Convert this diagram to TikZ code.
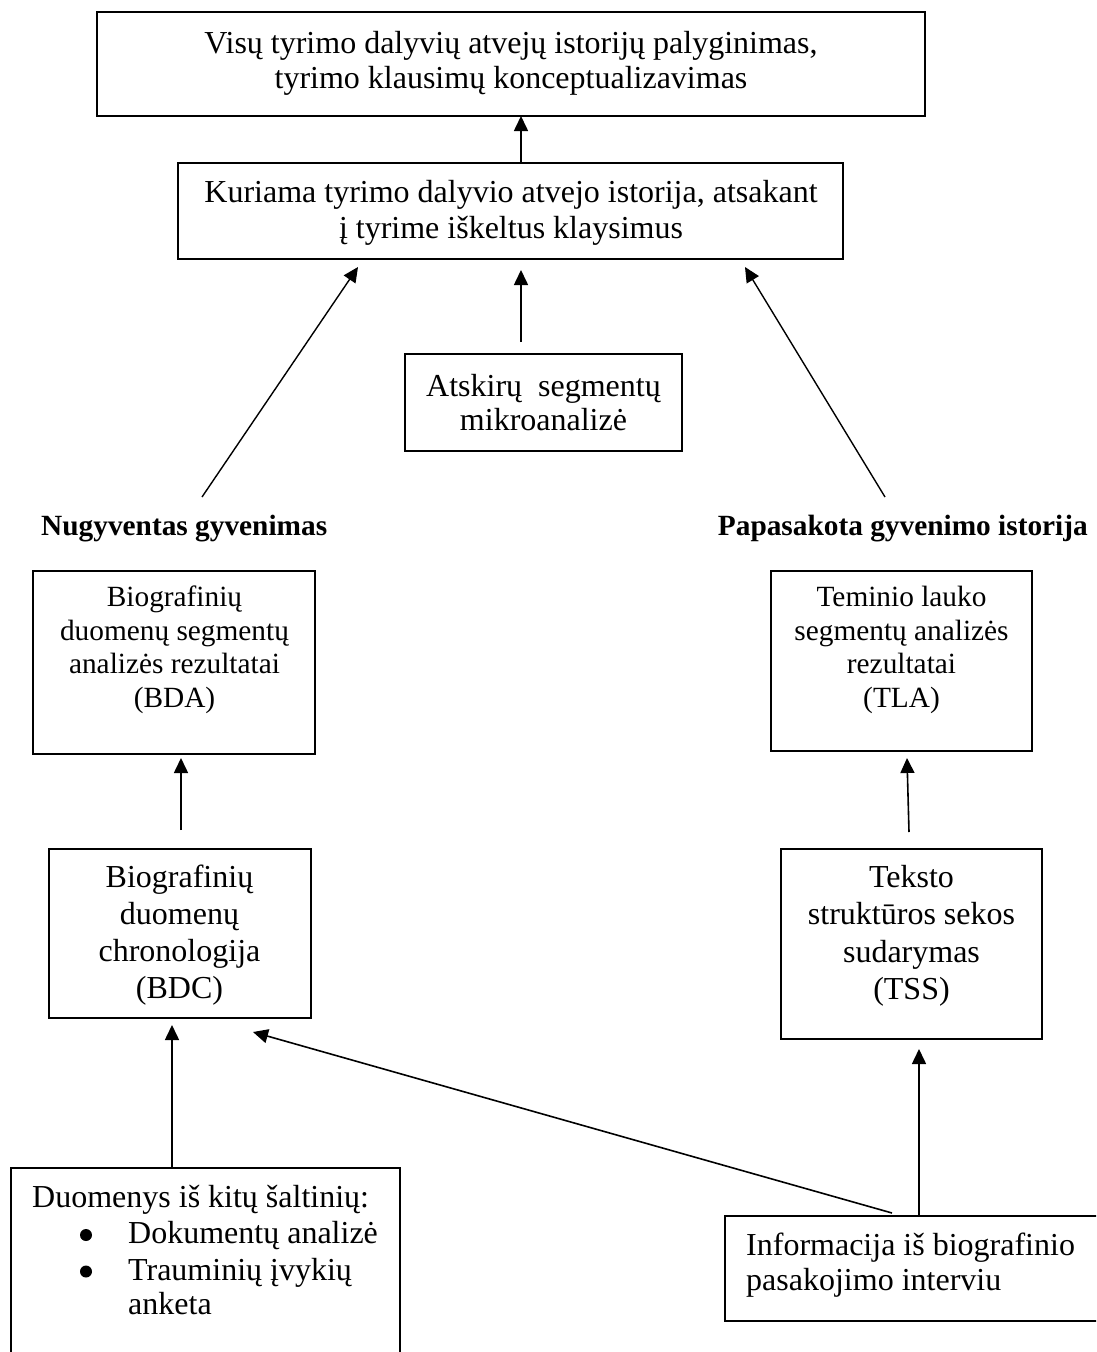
\documentclass[tikz,border=0pt]{standalone}
\usepackage{fontspec}
\setmainfont{Liberation Serif}
\usetikzlibrary{arrows.meta}
\begin{document}
\begin{tikzpicture}[x=1pt,y=-1pt,
  box/.style={draw, line width=2pt, inner sep=0pt, outer sep=0pt, anchor=north west},
  txt/.style={inner sep=0pt, outer sep=0pt, align=center, anchor=north},
  big/.style={font=\fontsize{32}{#1}\selectfont},
  small/.style={font=\fontsize{29.33}{#1}\selectfont},
  lbl/.style={inner sep=0pt, font=\fontsize{29.33}{33.7}\selectfont\bfseries},
  arr/.style={-{Triangle[length=15pt,width=14pt]}, line width=1.6pt},
  thin/.style={-{Triangle[length=15pt,width=14pt]}, line width=1.4pt}]
\useasboundingbox (0,0) rectangle (1096,1352);
\clip (0,0) rectangle (1096,1352);
\fill[white] (0,0) rectangle (1096,1352);

% boxes
\node[box, minimum width=828pt, minimum height=104pt] (top) at (97,12) {};
\node[box, minimum width=665pt, minimum height=96pt] (kur) at (178,163) {};
\node[box, minimum width=277pt, minimum height=97pt] (atsk) at (405,354) {};
\node[box, minimum width=282pt, minimum height=183pt] (bda) at (33,571) {};
\node[box, minimum width=261pt, minimum height=180pt] (tla) at (771,571) {};
\node[box, minimum width=262pt, minimum height=169pt] (bdc) at (49,849) {};
\node[box, minimum width=261pt, minimum height=190pt] (tss) at (781,849) {};
\node[box, minimum width=389pt, minimum height=260pt] (duom) at (11,1168) {};
\node[box, minimum width=400pt, minimum height=105pt] (info) at (725,1216) {};

% texts
\node[txt, big=35] (ttop) at (511,28.8) {\strut Visų tyrimo dalyvių atvejų istorijų palyginimas,\\tyrimo klausimų konceptualizavimas};
\node[txt, big=36] (tkur) at (511,177.5) {\strut Kuriama tyrimo dalyvio atvejo istorija, atsakant\\į tyrime iškeltus klaysimus};
\node[txt, big=33.5] (tatsk) at (543.5,373.2) {\strut Atskirų\ \ segmentų\\mikroanalizė};
\node[lbl, anchor=base west] (nug) at (41,535) {Nugyventas gyvenimas};
\node[lbl, anchor=base east] (pap) at (1088,535) {Papasakota gyvenimo istorija};
\node[txt, small=33.5] (tbda) at (174.5,583.5) {\strut Biografinių\\duomenų segmentų\\analizės rezultatai\\(BDA)};
\node[txt, small=33.5] (ttla) at (901.5,583.5) {\strut Teminio lauko\\segmentų analizės\\rezultatai\\(TLA)};
\node[txt, big=37] (tbdc) at (179.5,861.1) {\strut Biografinių\\duomenų\\chronologija\\(BDC)};
\node[txt, big=37.6] (ttss) at (911.5,860.7) {\strut Teksto\\struktūros sekos\\sudarymas\\(TSS)};
\node[inner sep=0pt, anchor=base west, big=36] (tduom) at (32,1207) {Duomenys iš kitų šaltinių:};
\node[inner sep=0pt, anchor=base west, big=36] (titem1) at (128,1243) {Dokumentų analizė};
\node[inner sep=0pt, anchor=north west, align=left, big=34] (titem2) at (128,1256.2) {\strut Trauminių įvykių\\anketa};
\fill (86,1235) circle (6);
\fill (86,1271.5) circle (6);
\node[inner sep=0pt, anchor=north west, align=left, big=35] (tinfo) at (746,1230.5) {\strut Informacija iš biografinio\\pasakojimo interviu};

% connector end points
\coordinate (c1) at (521,0);
\coordinate (lfoot) at (202,497);
\coordinate (ltip) at (358,267);
\coordinate (mfoot) at (521,342);
\coordinate (mtip) at (521,270);
\coordinate (rfoot) at (885,497);
\coordinate (rtip) at (745,267);
\coordinate (bdafoot) at (181,830);
\coordinate (bdatip) at (181,758);
\coordinate (tlafoot) at (909,832);
\coordinate (tlatip) at (907,758);
\coordinate (c7) at (172,0);
\coordinate (bdctip) at (172,1025);
\coordinate (dfoot) at (892,1213);
\coordinate (dtip) at (253,1032);
\coordinate (c9) at (919,0);
\coordinate (tsstip) at (919,1049);

% connectors
\draw[arr] (kur.north -| c1) -- (top.south -| c1);
\draw[thin] (lfoot) -- (ltip);
\draw[arr] (mfoot) -- (mtip);
\draw[thin] (rfoot) -- (rtip);
\draw[arr] (bdafoot) -- (bdatip);
\draw[arr] (tlafoot) -- (tlatip);
\draw[arr] (duom.north -| c7) -- (bdctip);
\draw[arr] (dfoot) -- (dtip);
\draw[arr] (info.north -| c9) -- (tsstip);
\end{tikzpicture}
\end{document}
